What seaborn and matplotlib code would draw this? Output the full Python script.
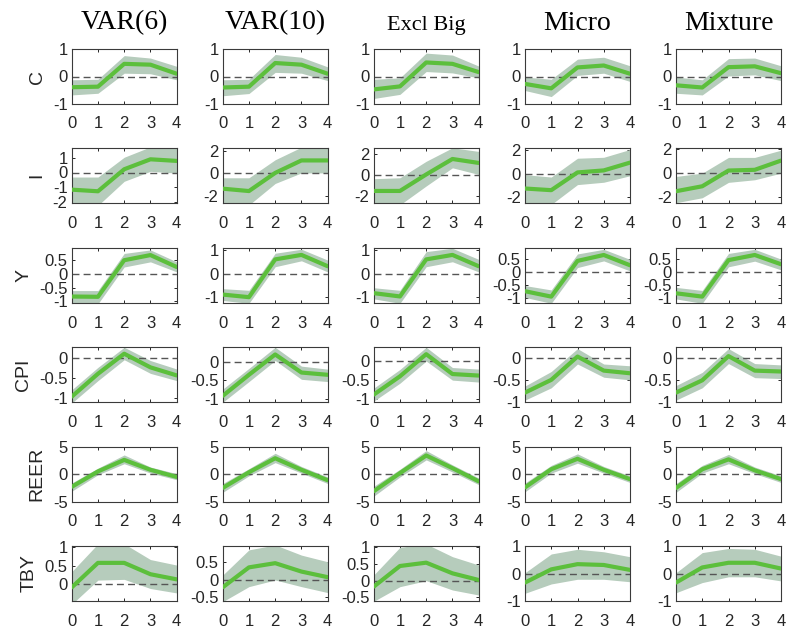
import numpy as np
import pandas as pd
import matplotlib
matplotlib.use("Agg")
import matplotlib.pyplot as plt
import seaborn as sns
from matplotlib.ticker import FuncFormatter

models = ["VAR(6)", "VAR(10)", "Excl Big", "Micro", "Mixture"]
variables = ["C", "I", "Y", "CPI", "REER", "TBY"]
horizons = [0, 1, 2, 3, 4]

C_mean = [[-0.39, -0.37, 0.46, 0.43, 0.10],
          [-0.40, -0.37, 0.49, 0.43, 0.10],
          [-0.47, -0.36, 0.51, 0.46, 0.16],
          [-0.27, -0.43, 0.33, 0.40, 0.10],
          [-0.32, -0.40, 0.34, 0.37, 0.12]]
C_low = [[-0.67, -0.61, 0.12, 0.10, -0.12],
         [-0.70, -0.62, 0.15, 0.12, -0.15],
         [-0.80, -0.65, 0.18, 0.13, -0.05],
         [-0.51, -0.73, 0.04, 0.12, -0.18],
         [-0.61, -0.67, 0.02, 0.06, -0.15]]
C_high = [[-0.12, -0.10, 0.76, 0.67, 0.37],
          [-0.12, -0.10, 0.80, 0.70, 0.35],
          [-0.10, -0.05, 0.85, 0.78, 0.38],
          [-0.02, -0.10, 0.63, 0.70, 0.39],
          [-0.02, -0.12, 0.65, 0.67, 0.39]]

I_mean = [[-1.17, -1.28, 0.22, 0.90, 0.79],
          [-1.36, -1.57, 0.03, 1.13, 1.13],
          [-1.56, -1.56, 0.03, 1.52, 1.14],
          [-1.25, -1.39, 0.11, 0.28, 0.94],
          [-1.53, -1.11, 0.22, 0.28, 1.06]]
I_low = [[-2.40, -2.25, -0.60, 0.08, -0.04],
         [-2.58, -2.80, -0.90, 0.03, 0.03],
         [-2.90, -2.90, -1.08, 0.67, 0.03],
         [-2.44, -2.60, -0.92, -0.72, -0.17],
         [-2.50, -2.08, -0.78, -0.56, 0.00]]
I_high = [[-0.31, -0.31, 1.04, 1.75, 1.70],
          [-0.40, -0.40, 1.19, 2.30, 2.30],
          [-0.38, -0.29, 1.30, 2.60, 2.25],
          [-0.08, -0.28, 1.31, 1.39, 2.05],
          [-0.28, 0.00, 1.33, 1.33, 1.94]]

Y_mean = [[-0.83, -0.84, 0.51, 0.70, 0.26],
          [-0.89, -1.00, 0.60, 0.79, 0.31],
          [-0.83, -0.97, 0.60, 0.79, 0.31],
          [-0.75, -0.96, 0.43, 0.66, 0.26],
          [-0.83, -0.96, 0.46, 0.66, 0.30]]
Y_low = [[-1.05, -1.10, 0.26, 0.45, 0.08],
         [-1.14, -1.26, 0.29, 0.54, 0.07],
         [-1.07, -1.26, 0.29, 0.50, 0.07],
         [-0.99, -1.22, 0.17, 0.43, 0.04],
         [-1.05, -1.22, 0.20, 0.42, 0.08]]
Y_high = [[-0.61, -0.61, 0.76, 0.89, 0.45],
          [-0.64, -0.71, 0.86, 1.03, 0.57],
          [-0.60, -0.71, 0.93, 1.07, 0.60],
          [-0.53, -0.70, 0.70, 0.88, 0.49],
          [-0.60, -0.72, 0.72, 0.88, 0.50]]

CPI_mean = [[-0.96, -0.39, 0.11, -0.23, -0.43],
            [-0.91, -0.35, 0.19, -0.29, -0.35],
            [-0.88, -0.40, 0.18, -0.34, -0.38],
            [-0.78, -0.49, 0.04, -0.28, -0.34],
            [-0.78, -0.50, 0.05, -0.28, -0.30]]
CPI_low = [[-1.12, -0.56, -0.04, -0.38, -0.56],
           [-1.08, -0.53, 0.03, -0.47, -0.53],
           [-1.05, -0.58, 0.00, -0.50, -0.55],
           [-0.95, -0.67, -0.13, -0.43, -0.49],
           [-0.95, -0.67, -0.12, -0.44, -0.46]]
CPI_high = [[-0.79, -0.23, 0.27, -0.06, -0.27],
            [-0.73, -0.18, 0.38, -0.12, -0.20],
            [-0.71, -0.22, 0.36, -0.17, -0.21],
            [-0.63, -0.30, 0.22, -0.13, -0.17],
            [-0.62, -0.32, 0.22, -0.12, -0.15]]

REER_mean = [[-2.3, 0.5, 2.6, 0.8, -0.5],
             [-2.5, 0.35, 2.9, 0.8, -1.1],
             [-3.1, 0.2, 3.4, 1.1, -1.3],
             [-2.4, 0.9, 2.8, 0.8, -0.9],
             [-2.5, 0.9, 2.7, 0.7, -0.9]]
REER_low = [[-3.1, -0.1, 1.9, 0.2, -1.0],
            [-3.3, -0.3, 2.1, 0.2, -1.7],
            [-4.0, -0.5, 2.6, 0.4, -1.9],
            [-3.2, 0.2, 2.0, 0.2, -1.5],
            [-3.3, 0.2, 1.9, 0.1, -1.5]]
REER_high = [[-1.6, 1.1, 3.5, 1.3, 0.1],
             [-1.7, 1.0, 3.8, 1.4, -0.5],
             [-2.2, 0.9, 4.3, 1.7, -0.7],
             [-1.6, 1.6, 3.7, 1.4, -0.3],
             [-1.7, 1.6, 3.6, 1.3, -0.3]]

TBY_mean = [[-0.09, 0.58, 0.58, 0.27, 0.13],
            [-0.21, 0.36, 0.48, 0.24, 0.08],
            [-0.18, 0.44, 0.54, 0.22, 0.02],
            [-0.33, 0.15, 0.34, 0.31, 0.13],
            [-0.33, 0.22, 0.39, 0.39, 0.18]]
TBY_low = [[-0.55, 0.11, 0.13, -0.12, -0.24],
           [-0.62, -0.19, 0.00, -0.19, -0.36],
           [-0.62, -0.18, 0.00, -0.28, -0.43],
           [-0.72, -0.38, -0.21, -0.21, -0.30],
           [-0.70, -0.33, -0.12, -0.12, -0.27]]
TBY_high = [[0.34, 1.10, 1.10, 0.67, 0.52],
            [0.14, 0.86, 1.00, 0.71, 0.52],
            [0.17, 1.00, 1.10, 0.72, 0.47],
            [0.03, 0.71, 0.88, 0.79, 0.61],
            [0.03, 0.76, 0.91, 0.88, 0.63]]

means = [C_mean, I_mean, Y_mean, CPI_mean, REER_mean, TBY_mean]
lows = [C_low, I_low, Y_low, CPI_low, REER_low, TBY_low]
highs = [C_high, I_high, Y_high, CPI_high, REER_high, TBY_high]

# axis ranges and ticks (layout)
ylims = [
    [(-1, 1)] * 5,
    [(-2.1, 1.65), (-2.65, 2.2), (-2.75, 2.55), (-2.5, 2.15), (-2.55, 2.1)],
    [(-1.08, 0.95), (-1.26, 1.07), (-1.26, 1.07), (-1.22, 0.92), (-1.22, 0.92)],
    [(-1.1, 0.27), (-1.08, 0.38), (-1.08, 0.36), (-0.98, 0.25), (-0.98, 0.25)],
    [(-5, 5)] * 5,
    [(-0.46, 1.04), (-0.6, 0.97), (-0.61, 1.04), (-1, 1), (-1, 1)],
]
yticks = [
    [[-1, 0, 1]] * 5,
    [[-2, -1, 0, 1], [-2, 0, 2], [-2, 0, 2], [-2, 0, 2], [-2, 0, 2]],
    [[-1, -0.5, 0, 0.5], [-1, 0, 1], [-1, 0, 1], [-1, -0.5, 0, 0.5], [-1, -0.5, 0, 0.5]],
    [[-1, -0.5, 0]] * 5,
    [[-5, 0, 5]] * 5,
    [[0, 0.5, 1], [-0.5, 0, 0.5], [-0.5, 0, 0.5, 1], [-1, 0, 1], [-1, 0, 1]],
]

sns.set_theme(style="white")
plt.rcParams["font.family"] = ["Liberation Sans", "DejaVu Sans"]
plt.rcParams["axes.unicode_minus"] = False

W, H = 789, 630
fig = plt.figure(figsize=(W / 100, H / 100), dpi=100)
fig.patch.set_facecolor("white")

left_px = [71.7, 222.7, 373.7, 525.0, 676.0]
top_px = [49.0, 148.3, 248.3, 347.3, 446.7, 546.0]
aw, ah = 105.0, 55.0

line_color = "#5cbf3c"
band_color = "#b6ccbc"
dark = "#262626"
fmt = FuncFormatter(lambda v, p: ("%g" % v))

for r, var in enumerate(variables):
    for c, model in enumerate(models):
        ax = fig.add_axes([left_px[c] / W, 1 - (top_px[r] + ah) / H, aw / W, ah / H])
        df = pd.DataFrame({"h": horizons, "m": means[r][c],
                           "lo": lows[r][c], "hi": highs[r][c]})
        ax.fill_between(df["h"], df["lo"], df["hi"], color=band_color, lw=0, zorder=1)
        ax.axhline(0, color="#555555", lw=1.0, ls=(0, (5, 3)), zorder=2)
        sns.lineplot(data=df, x="h", y="m", ax=ax, color=line_color, lw=3.0,
                     zorder=3, legend=False)
        ax.set_xlim(0, 4)
        ax.set_ylim(*ylims[r][c])
        ax.set_xticks(horizons)
        ax.set_yticks(yticks[r][c])
        ax.yaxis.set_major_formatter(fmt)
        ax.set_xlabel("")
        ax.set_ylabel("")
        ax.tick_params(axis="both", which="both", direction="in", length=2.5,
                       width=0.7, colors=dark, labelsize=12, top=True, right=True,
                       bottom=True, left=True)
        ax.tick_params(axis="x", pad=9)
        ax.tick_params(axis="y", pad=3)
        for s in ax.spines.values():
            s.set_color("#3a3a3a")
            s.set_linewidth(0.8)
            s.set_visible(True)
        ax.set_facecolor("white")
        if c == 0:
            ax.set_ylabel(var, fontsize=14, color=dark, labelpad=5)
        if r == 0:
            size = 16 if model == "Excl Big" else 20
            ax.set_title(model, fontsize=size, color="black",
                         family=["Liberation Serif", "DejaVu Serif"], pad=14)

fig.savefig("out.png", dpi=100, facecolor="white")
